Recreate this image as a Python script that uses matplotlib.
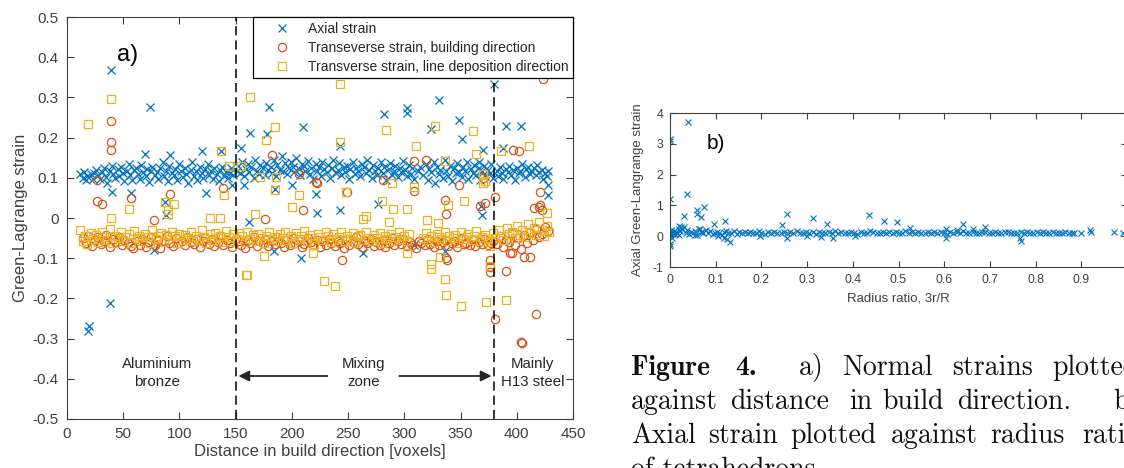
import matplotlib.pyplot as plt
from matplotlib.ticker import FuncFormatter

# ---- values ----
# a) normal strains against distance in build direction (voxel, strain)
axial_pts = [
    (12, .110), (14, .100), (15, .115), (17, .095), (18, .105), (21, .110), (23, .098), (24, .112), (26, .120), (28, .108),
    (29, .096), (31, .115), (33, .125), (35, .102), (36, .088), (38, .118), (40, .130), (41, .110), (43, .100), (45, .122),
    (46, .105), (48, .128), (50, .112), (51, .092), (53, .118), (55, .135), (56, .108), (58, .095), (60, .120), (61, .125),
    (63, .110), (65, .098), (66, .132), (68, .115), (70, .105), (71, .122), (73, .090), (75, .118), (76, .128), (78, .108),
    (80, .115), (81, .098), (83, .125), (85, .140), (86, .105), (88, .118), (90, .092), (91, .130), (93, .112), (95, .108),
    (96, .122), (98, .095), (100, .135), (101, .118), (103, .102), (105, .125), (106, .110), (108, .088), (110, .120), (111, .140),
    (113, .105), (115, .118), (116, .095), (118, .128), (120, .112), (121, .100), (123, .122), (125, .135), (126, .108), (128, .118),
    (130, .098), (131, .125), (133, .110), (135, .092), (136, .120), (138, .128), (140, .105), (141, .115), (143, .100), (145, .112),
    (146, .125), (148, .108), (151, .118), (152, .130), (154, .112), (156, .140), (157, .105), (159, .122), (161, .135), (162, .115),
    (164, .128), (166, .100), (167, .145), (169, .118), (171, .110), (172, .132), (174, .125), (176, .108), (177, .138), (179, .120),
    (181, .128), (182, .112), (184, .145), (186, .105), (187, .132), (189, .120), (191, .155), (192, .118), (194, .138), (196, .110),
    (197, .125), (199, .140), (201, .128), (202, .115), (204, .150), (206, .122), (207, .108), (209, .135), (211, .130), (212, .118),
    (214, .142), (216, .110), (217, .125), (219, .098), (221, .135), (222, .118), (224, .128), (226, .105), (227, .140), (229, .122),
    (231, .115), (232, .132), (234, .100), (236, .125), (237, .145), (239, .112), (241, .120), (242, .138), (244, .108), (246, .128),
    (247, .115), (249, .130), (251, .098), (252, .122), (254, .140), (256, .110), (257, .125), (259, .118), (261, .105), (262, .135),
    (264, .128), (266, .112), (267, .145), (269, .120), (271, .100), (272, .132), (274, .118), (276, .108), (277, .125), (279, .140),
    (281, .112), (282, .128), (284, .095), (286, .122), (287, .138), (289, .108), (291, .118), (292, .130), (294, .102), (296, .125),
    (297, .115), (299, .142), (301, .120), (302, .105), (304, .132), (306, .110), (307, .125), (309, .098), (312, .118), (314, .128),
    (317, .108), (319, .135), (321, .095), (322, .122), (324, .115), (326, .140), (327, .088), (329, .128), (331, .110), (332, .120),
    (334, .100), (336, .145), (337, .118), (339, .105), (341, .130), (342, .092), (344, .125), (346, .112), (347, .138), (349, .115),
    (351, .102), (352, .128), (354, .118), (356, .140), (357, .098), (359, .122), (361, .112), (362, .132), (364, .108), (366, .125),
    (367, .095), (369, .118), (371, .130), (372, .105), (374, .120), (376, .112), (377, .135), (379, .100),
    (382, .118), (383, .105), (385, .128), (387, .112), (388, .098), (390, .122), (392, .115), (393, .130), (395, .108), (397, .120),
    (398, .095), (400, .125), (402, .112), (403, .118), (405, .135), (407, .102), (408, .122), (410, .128), (412, .110), (413, .118),
    (415, .125), (417, .108), (418, .132), (420, .115), (422, .120), (423, .098), (425, .112), (427, .105), (428, .118),
    # outliers
    (19, -.280), (20, -.268), (38, -.212), (39, .367), (40, .065), (74, .276), (77, -.079), (57, .062), (69, .160),
    (92, .156), (120, .166), (124, .062), (137, .166), (147, .083), (155, .173), (157, .082), (163, .211), (180, .275),
    (178, .210), (185, .071), (200, .083), (210, .226), (221, .060), (208, -.099), (184, -.082), (162, -.011), (263, -.088),
    (282, .258), (302, .274), (302, .260), (309, -.068), (331, .294), (324, .222), (349, .245), (351, .197), (380, .334),
    (390, .230), (404, .230), (428, .083), (428, .058), (222, .012), (243, .021), (277, .036), (368, .030), (369, .008),
    (336, -.083), (87, .040), (88, .007), (243, .180), (366, .140), (370, .170), (388, .175),
]

building_pts = [
    (14, -.050), (17, -.062), (19, -.045), (22, -.070), (25, -.055), (27, -.048), (30, -.065), (33, -.058), (35, -.042), (38, -.072),
    (41, -.052), (43, -.060), (46, -.047), (49, -.068), (51, -.055), (54, -.063), (57, -.070), (59, -.074), (62, -.058), (65, -.066),
    (67, -.052), (70, -.072), (73, -.060), (75, -.048), (78, -.066), (81, -.055), (83, -.075), (86, -.058), (89, -.044), (91, -.063),
    (94, -.070), (97, -.050), (99, -.061), (102, -.056), (105, -.068), (107, -.047), (110, -.059), (113, -.065), (115, -.052), (118, -.071),
    (121, -.057), (123, -.049), (126, -.064), (129, -.053), (131, -.069), (134, -.060), (137, -.046), (139, -.067), (142, -.055), (145, -.062),
    (147, -.072), (150, -.051), (153, -.058), (155, -.066), (158, -.074), (161, -.054), (163, -.061), (166, -.048), (169, -.069), (171, -.057),
    (174, -.063), (177, -.052), (179, -.070), (182, -.058), (185, -.065), (187, -.047), (190, -.061), (193, -.073), (195, -.055), (198, -.068),
    (201, -.050), (203, -.062), (206, -.057), (209, -.071), (211, -.064), (214, -.049), (217, -.060), (219, -.067), (222, -.054), (225, -.072),
    (227, -.058), (230, -.066), (233, -.051), (235, -.063), (238, -.070), (241, -.056), (243, -.062), (246, -.074), (249, -.053), (251, -.067),
    (254, -.059), (257, -.048), (259, -.065), (262, -.071), (265, -.057), (267, -.062), (270, -.052), (273, -.069), (275, -.060), (278, -.066),
    (281, -.055), (283, -.072), (286, -.061), (289, -.049), (291, -.068), (294, -.058), (297, -.064), (299, -.053), (302, -.070), (305, -.060),
    (307, -.066), (310, -.075), (313, -.057), (315, -.062), (318, -.068), (321, -.052), (323, -.064), (326, -.071), (329, -.058), (331, -.066),
    (334, -.060), (337, -.054), (339, -.069), (342, -.063), (345, -.057), (347, -.072), (350, -.050), (353, -.065), (355, -.061), (358, -.068),
    (361, -.055), (363, -.070), (366, -.059), (369, -.064), (371, -.052), (374, -.067), (377, -.062), (379, -.058),
    (382, -.065), (385, -.045), (388, -.072), (390, -.055), (393, -.060), (396, -.038), (398, -.068), (401, -.050), (404, -.078), (406, -.042),
    (409, -.062), (412, -.035), (414, -.055), (417, -.028), (420, -.048), (422, -.040), (425, -.022), (428, -.032),
    # outliers
    (27, .094), (27, .043), (31, .035), (39, .241), (39, .189), (39, .168), (57, .050), (92, .060), (139, .075),
    (182, .156), (206, .109), (210, .019), (221, .090), (77, -.006), (176, -.002), (222, .087), (245, -.105), (249, .065),
    (281, .095), (309, .143), (319, .145), (309, .066), (336, .046), (337, .009), (349, .081), (367, .029), (372, .037),
    (370, .100), (381, .053), (397, .170), (402, .166), (415, .025), (421, .033), (421, .065), (423, .347), (337, -.100),
    (338, -.105), (376, -.105), (376, -.122), (376, -.134), (381, -.252), (390, -.132), (394, -.088), (396, -.086),
    (406, -.097), (412, -.097), (417, -.238), (404, -.308), (405, -.312), (420, .027), (422, .020),
]

deposition_pts = [
    (12, -.030), (14, -.058), (16, -.045), (18, -.065), (21, -.038), (23, -.052), (26, -.042), (28, -.060), (31, -.035), (33, -.048),
    (36, -.055), (38, -.028), (40, -.062), (43, -.044), (45, -.050), (48, -.036), (50, -.058), (52, -.047), (55, -.040), (57, -.063),
    (60, -.033), (62, -.050), (64, -.044), (67, -.057), (69, -.039), (72, -.048), (74, -.062), (76, -.030), (79, -.053), (81, -.045),
    (84, -.037), (86, -.059), (88, -.042), (91, -.051), (93, -.034), (96, -.046), (98, -.061), (100, -.040), (103, -.055), (105, -.043),
    (108, -.049), (110, -.036), (112, -.058), (115, -.044), (117, -.052), (120, -.031), (122, -.047), (124, -.063), (127, -.040), (129, -.054),
    (132, -.038), (134, -.050), (136, -.045), (139, -.060), (141, -.033), (144, -.048), (146, -.056), (148, -.041), (151, -.052), (153, -.037),
    (156, -.046), (158, -.060), (160, -.035), (163, -.051), (165, -.043), (168, -.057), (170, -.039), (172, -.049), (175, -.062), (177, -.044),
    (180, -.036), (182, -.053), (184, -.047), (187, -.058), (189, -.040), (192, -.050), (194, -.034), (196, -.055), (199, -.045), (201, -.061),
    (204, -.038), (206, -.052), (208, -.046), (211, -.033), (213, -.057), (216, -.043), (218, -.050), (220, -.064), (223, -.039), (225, -.048),
    (228, -.055), (230, -.036), (232, -.045), (235, -.059), (237, -.041), (240, -.052), (242, -.047), (244, -.035), (247, -.056), (249, -.044),
    (252, -.051), (254, -.038), (256, -.060), (259, -.046), (261, -.042), (264, -.055), (266, -.034), (268, -.049), (271, -.058), (273, -.043),
    (276, -.050), (278, -.037), (280, -.062), (283, -.045), (285, -.053), (288, -.040), (290, -.056), (292, -.048), (295, -.035), (297, -.052),
    (300, -.046), (302, -.058), (304, -.041), (317, -.050), (319, -.037), (321, -.055), (324, -.044), (326, -.060), (329, -.039), (331, -.048),
    (333, -.053), (336, -.034), (338, -.057), (340, -.045), (343, -.050), (345, -.042), (348, -.061), (350, -.036), (352, -.052), (355, -.047),
    (357, -.040), (360, -.055), (362, -.045), (364, -.033), (367, -.058), (369, -.048), (372, -.042), (374, -.052), (376, -.060), (379, -.038),
    (381, -.050), (384, -.030), (386, -.045), (388, -.055), (391, -.025), (393, -.040), (396, -.035), (398, -.050), (400, -.020), (403, -.043),
    (405, -.030), (408, -.048), (410, -.015), (412, -.038), (415, -.025), (417, -.042), (420, -.010), (422, -.030), (424, -.045), (427, -.020),
    (429, -.035),
    # outliers
    (19, .235), (39, .296), (39, .000), (55, .023), (87, .040), (95, .035), (90, .020), (90, .009), (127, .000),
    (136, .000), (137, .166), (140, .058), (144, .129), (155, .129), (163, .301), (167, .010), (172, .102), (186, .102),
    (177, .193), (185, .226), (185, .069), (200, .027), (206, .056), (159, -.142), (160, -.143), (175, -.095), (243, .334),
    (243, .189), (219, -.087), (229, -.157), (238, -.169), (248, .065), (280, .042), (284, .218), (289, .087), (290, .023),
    (302, .023), (302, -.088), (309, .078), (310, .178), (324, -.115), (324, -.128), (327, .228), (332, -.097), (336, .143),
    (336, -.151), (337, -.192), (339, .032), (350, -.219), (353, .042), (361, .216), (364, .160), (370, .109), (370, .087),
    (372, .092), (373, -.210), (376, -.070), (376, -.120), (386, .166), (390, -.205), (411, .178), (427, .012),
    (263, -.002), (266, .005), (286, -.010), (320, -.005), (330, -.013),
]

# b) axial strain against radius ratio 3r/R
ratio_pts = [
    (.000, .10), (.001, .05), (.002, .15), (.003, .20), (.004, .08), (.006, .12), (.008, .18), (.010, .06), (.013, .14), (.016, .10),
    (.019, .22), (.022, .16), (.026, .25), (.030, .30), (.034, .12), (.038, .20), (.042, .08), (.046, .15), (.050, .10), (.055, .18),
    (.060, .05), (.064, .22), (.068, .14), (.073, .12), (.078, .20), (.083, .10), (.088, .16), (.093, .08), (.098, .12), (.103, .15),
    (.108, .10), (.113, .05), (.118, .14), (.123, .18), (.128, .10), (.134, .12), (.140, .16), (.146, .08), (.152, .14), (.158, .11),
    (.164, .13), (.170, .09), (.176, .15), (.182, .12), (.188, .10), (.194, .16), (.200, .11), (.207, .08), (.214, .13), (.221, .10),
    (.228, .15), (.235, .12), (.242, .09), (.249, .14), (.256, .11), (.263, .13), (.270, .10), (.277, .16), (.284, .12), (.291, .09),
    (.298, .14), (.305, .11), (.312, .13), (.319, .08), (.326, .15), (.333, .12), (.340, .10), (.347, .14), (.354, .11), (.361, .16),
    (.368, .09), (.375, .13), (.382, .12), (.389, .10), (.396, .15), (.403, .11), (.410, .08), (.417, .14), (.424, .12), (.431, .10),
    (.438, .16), (.445, .13), (.452, .09), (.459, .12), (.466, .15), (.473, .10), (.480, .13), (.487, .11), (.494, .14), (.501, .09),
    (.508, .12), (.515, .16), (.522, .10), (.529, .13), (.536, .11), (.543, .15), (.550, .12), (.557, .09), (.564, .14), (.571, .10),
    (.578, .13), (.585, .11), (.592, .15), (.599, .12), (.606, .08), (.613, .14), (.620, .10), (.627, .13), (.634, .12), (.641, .16),
    (.648, .09), (.655, .11), (.662, .14), (.669, .12), (.676, .10), (.683, .15), (.690, .13), (.697, .11), (.704, .09), (.711, .14),
    (.718, .12), (.725, .10), (.732, .13), (.739, .15), (.746, .11), (.753, .12), (.760, .09), (.767, .14), (.774, .11), (.781, .13),
    (.788, .10), (.795, .12), (.802, .15), (.809, .11), (.816, .13), (.823, .10), (.830, .12), (.837, .14), (.844, .11), (.851, .12),
    (.858, .10), (.865, .13), (.872, .11), (.880, .12),
    # outliers
    (.000, 3.15), (.000, 3.10), (.040, 3.72), (.000, 1.20), (.038, 1.38), (.058, .85), (.060, .72), (.068, .62), (.075, .95),
    (.030, .65), (.097, .40), (.121, .48), (.256, .72), (.245, .35), (.313, .58), (.343, .38), (.436, .68), (.469, .48),
    (.496, .47), (.525, .27), (.605, .22), (.642, .40), (.690, .30), (.662, .25), (.628, .20), (.000, -.25), (.000, -.32),
    (.131, -.20), (.118, -.05), (.125, -.10), (.256, -.06), (.356, -.06), (.330, -.02), (.605, -.07), (.766, -.07),
    (.767, -.15), (.972, .15), (.992, .12), (.921, .15), (.900, .10), (.918, .20), (.885, .12), (.025, .30), (.020, .32),
    (.065, .22), (.070, .15), (.105, .00), (.196, .00), (.300, .00), (.405, .02), (.020, .05), (.004, -.05), (.055, .05),
]

series_names = ['Axial strain', 'Transeverse strain, building direction',
                'Transverse strain, line deposition direction']
region_names = ['Aluminium\nbronze', 'Mixing\nzone', 'Mainly\nH13 steel']
region_centres = [80, 264, 414]
boundaries = [150, 380]

caption = [
    ['Figure', '4.', 'a)', 'Normal', 'strains', 'plotted'],
    ['against', 'distance', 'in', 'build', 'direction.', 'b)'],
    ['Axial', 'strain', 'plotted', 'against', 'radius', 'ratio'],
    ['of tetrahedrons.'],
]

# ---- styling ----
blue, orange, yellow = '#0072BD', '#D95319', '#EDB120'
grey = '#404040'
plt.rcParams['font.family'] = ['Liberation Sans', 'DejaVu Sans']
plt.rcParams['axes.unicode_minus'] = False

W, H = 1124, 468
fig = plt.figure(figsize=(W / 100, H / 100), dpi=100)


def px_box(left, top, right, bottom):
    return [left / W, 1 - bottom / H, (right - left) / W, (bottom - top) / H]


def matlab_look(ax, size, ticklen):
    for sp in ax.spines.values():
        sp.set_color(grey)
        sp.set_linewidth(0.8)
    ax.tick_params(direction='in', top=True, right=True, length=ticklen, width=0.8,
                   colors=grey, labelsize=size)
    fmt = FuncFormatter(lambda v, p: '%g' % round(v, 3))
    ax.xaxis.set_major_formatter(fmt)
    ax.yaxis.set_major_formatter(fmt)


# ---- a) ----
ax = fig.add_axes(px_box(67, 17, 573, 419))
for pts, mk, col, name in [(axial_pts, 'x', blue, series_names[0]),
                           (building_pts, 'o', orange, series_names[1]),
                           (deposition_pts, 's', yellow, series_names[2])]:
    xs, ys = zip(*pts)
    ax.plot(xs, ys, mk, ls='none', color=col, mfc='none', ms=6, mew=0.9, label=name)

for b in boundaries:
    ax.axvline(b, color='k', lw=1.1, dashes=(6, 3.3), zorder=4)

ax.set_xlim(0, 450)
ax.set_ylim(-0.5, 0.5)
ax.set_xticks(range(0, 451, 50))
ax.set_yticks([i / 10 for i in range(-5, 6)])
matlab_look(ax, 11, 5)
ax.tick_params(pad=6)
ax.set_xlabel('Distance in build direction [voxels]', fontsize=12, color=grey, labelpad=2)
ax.set_ylabel('Green-Lagrange strain', fontsize=12, color=grey, labelpad=3)

leg = ax.legend(loc='upper right', borderaxespad=0, fontsize=10, fancybox=False,
                framealpha=1, edgecolor='k', handlelength=3.4, handletextpad=0.15,
                labelspacing=0.35, borderpad=0.35)
leg.get_frame().set_linewidth(0.9)
leg.set_zorder(10)
for t in leg.get_texts():
    t.set_color('#262626')

ax.text(54, 0.405, 'a)', fontsize=17, ha='center', va='center')
for name, xc in zip(region_names, region_centres):
    ax.text(xc, -0.386, name, fontsize=10.8, ha='center', va='center',
            linespacing=1.35, color='#262626')
ax.annotate('', xy=(boundaries[0], -0.393), xytext=(234, -0.393),
            arrowprops=dict(arrowstyle='-|>', color='#262626', lw=1.3, mutation_scale=16))
ax.annotate('', xy=(boundaries[1], -0.393), xytext=(293, -0.393),
            arrowprops=dict(arrowstyle='-|>', color='#262626', lw=1.3, mutation_scale=16))

# ---- b) ----
bx = fig.add_axes(px_box(670, 113, 1127, 267))
rx, ry = zip(*ratio_pts)
bx.plot(rx, ry, 'x', ls='none', color=blue, ms=5, mew=0.8)
bx.set_xlim(0, 1)
bx.set_ylim(-1, 4)
bx.set_xticks([i / 10 for i in range(0, 11)])
bx.set_yticks(range(-1, 5))
matlab_look(bx, 8.8, 4)
bx.tick_params(pad=5)
bx.set_xlabel('Radius ratio, 3r/R', fontsize=9.5, color=grey, labelpad=5)
bx.set_ylabel('Axial Green-Langrange strain', fontsize=9.5, color=grey, labelpad=6)
bx.text(0.10, 3.02, 'b)', fontsize=15, ha='center', va='center')

# ---- caption (cropped at the right edge like the page) ----
word_x = [
    [631, 735, 799, 842, 952, 1052],
    [631, 730, 849, 882, 957, 1113],
    [631, 708, 790, 891, 990, 1082],
    [631],
]
baselines = [375, 409, 443, 477]
for line, xs, yb in zip(caption, word_x, baselines):
    for i, (word, xw) in enumerate(zip(line, xs)):
        bold = yb == baselines[0] and i < 2
        fig.text(xw / W, 1 - yb / H, word, fontsize=20, va='baseline', ha='left',
                 family='cmb10' if bold else 'cmr10', color='#111111')

fig.savefig('out.png', dpi=100)
